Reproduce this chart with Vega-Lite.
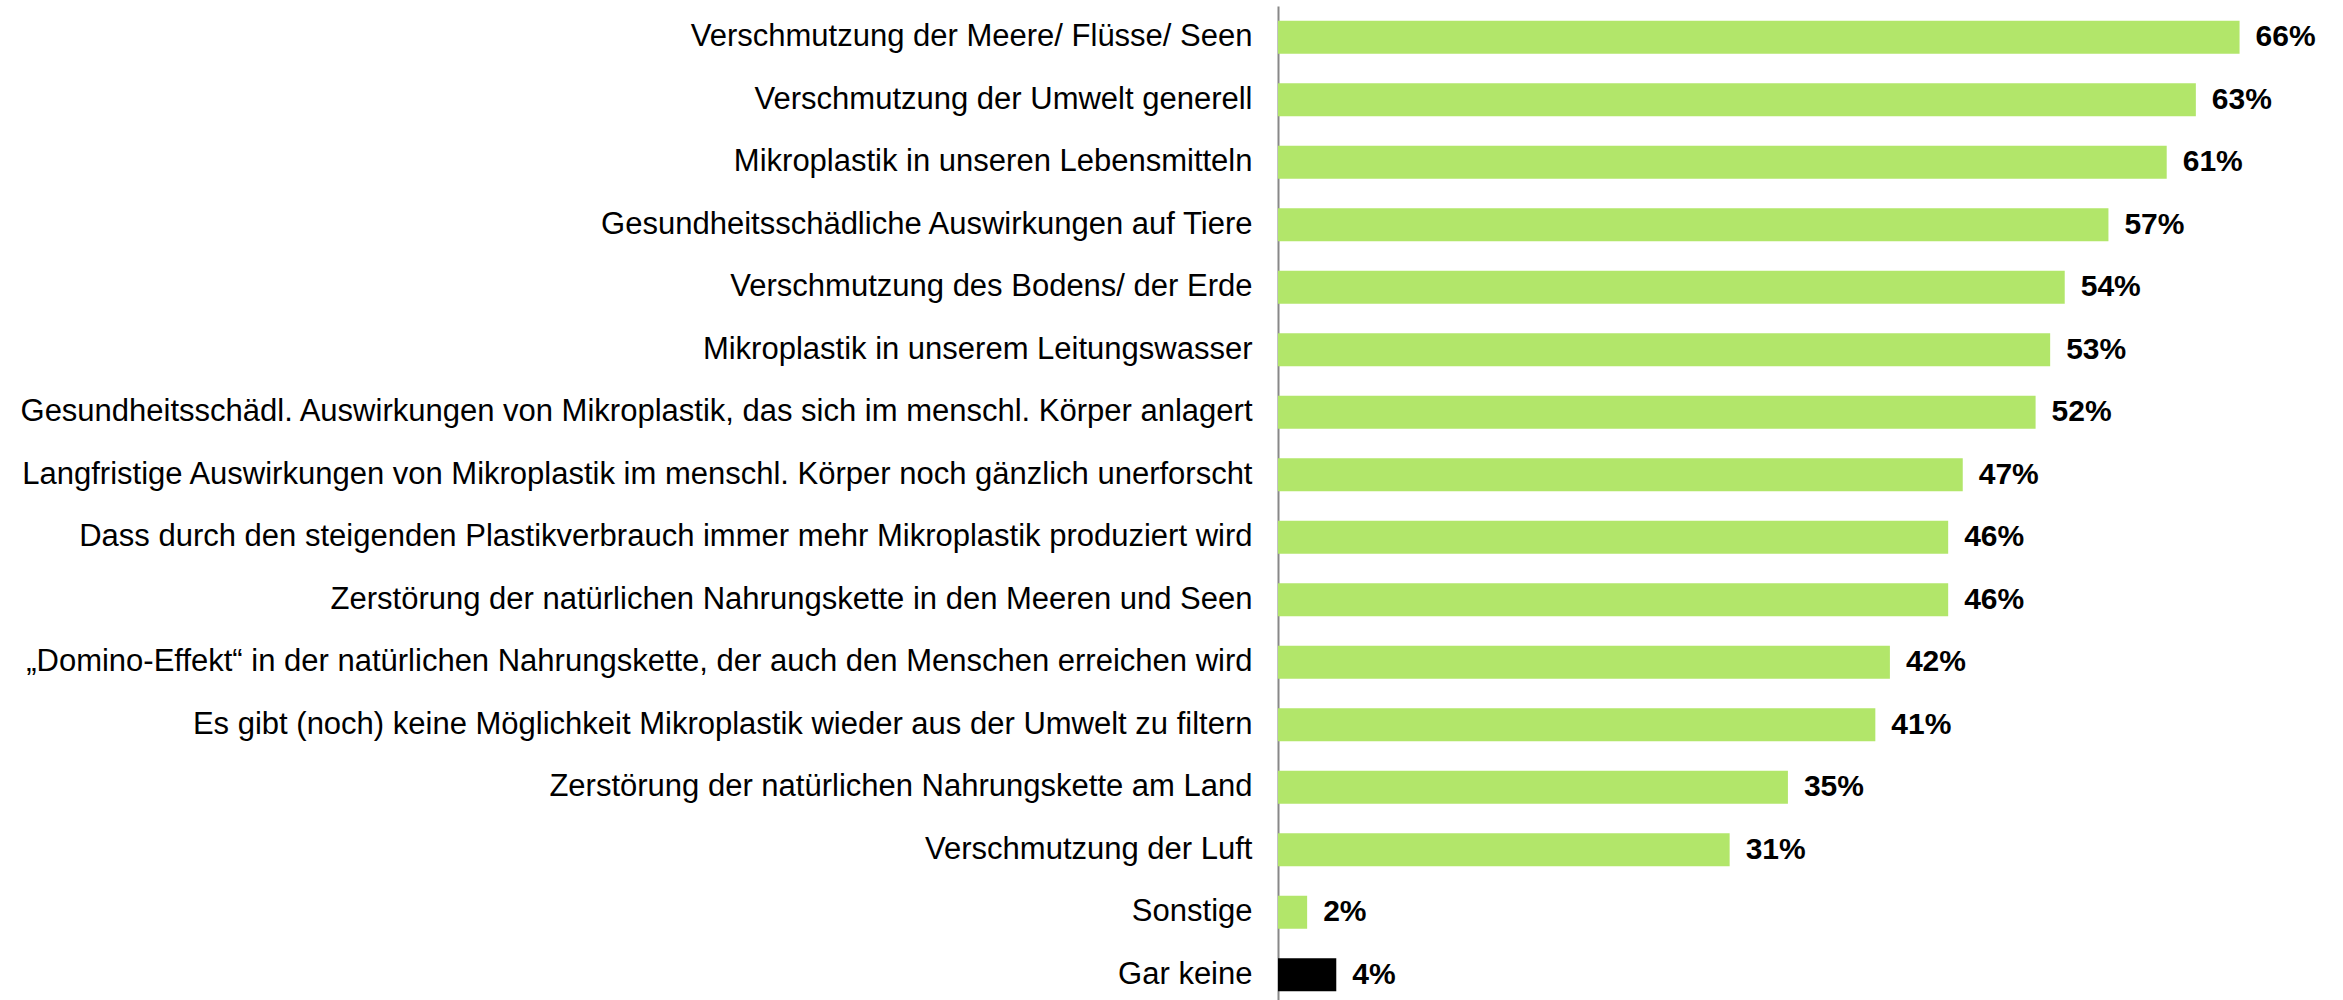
{
  "$schema": "https://vega.github.io/schema/vega-lite/v6.json",
  "width": 1065,
  "height": 1000,
  "autosize": "none",
  "padding": {"left": 1278, "top": 6, "right": 0, "bottom": 0},
  "background": "white",
  "config": {"view": {"stroke": null}, "font": "Liberation Sans"},
  "data": {"values": [
    {"label": "Verschmutzung der Meere/ Flüsse/ Seen", "value": 0.66, "typ": "a"},
    {"label": "Verschmutzung der Umwelt generell", "value": 0.63, "typ": "a"},
    {"label": "Mikroplastik in unseren Lebensmitteln", "value": 0.61, "typ": "a"},
    {"label": "Gesundheitsschädliche Auswirkungen auf Tiere", "value": 0.57, "typ": "a"},
    {"label": "Verschmutzung des Bodens/ der Erde", "value": 0.54, "typ": "a"},
    {"label": "Mikroplastik in unserem Leitungswasser", "value": 0.53, "typ": "a"},
    {"label": "Gesundheitsschädl. Auswirkungen von Mikroplastik, das sich im menschl. Körper anlagert", "value": 0.52, "typ": "a"},
    {"label": "Langfristige Auswirkungen von Mikroplastik im menschl. Körper noch gänzlich unerforscht", "value": 0.47, "typ": "a"},
    {"label": "Dass durch den steigenden Plastikverbrauch immer mehr Mikroplastik produziert wird", "value": 0.46, "typ": "a"},
    {"label": "Zerstörung der natürlichen Nahrungskette in den Meeren und Seen", "value": 0.46, "typ": "a"},
    {"label": "„Domino-Effekt“ in der natürlichen Nahrungskette, der auch den Menschen erreichen wird", "value": 0.42, "typ": "a"},
    {"label": "Es gibt (noch) keine Möglichkeit Mikroplastik wieder aus der Umwelt zu filtern", "value": 0.41, "typ": "a"},
    {"label": "Zerstörung der natürlichen Nahrungskette am Land", "value": 0.35, "typ": "a"},
    {"label": "Verschmutzung der Luft", "value": 0.31, "typ": "a"},
    {"label": "Sonstige", "value": 0.02, "typ": "a"},
    {"label": "Gar keine", "value": 0.04, "typ": "b"}
  ]},
  "encoding": {
    "y": {
      "field": "label", "type": "nominal", "sort": null,
      "scale": {"paddingInner": 0.47, "paddingOuter": 0.235},
      "axis": {"title": null, "ticks": false, "domainColor": "#888888", "domainWidth": 2,
               "labelFontSize": 31, "labelColor": "#000000", "labelPadding": 26, "labelLimit": 0,
               "labelFont": "Liberation Sans"}
    },
    "x": {"field": "value", "type": "quantitative", "scale": {"domain": [0, 0.731], "nice": false}, "axis": null}
  },
  "layer": [
    {
      "mark": {"type": "bar"},
      "encoding": {
        "color": {"field": "typ", "type": "nominal",
                  "scale": {"domain": ["a", "b"], "range": ["#B2E66A", "#000000"]}, "legend": null}
      }
    },
    {
      "mark": {"type": "text", "align": "left", "baseline": "middle", "dx": 16, "fontSize": 30, "fontWeight": "bold", "color": "#000000", "font": "Liberation Sans"},
      "encoding": {
        "text": {"field": "value", "type": "quantitative", "format": ".0%"}
      }
    }
  ]
}
